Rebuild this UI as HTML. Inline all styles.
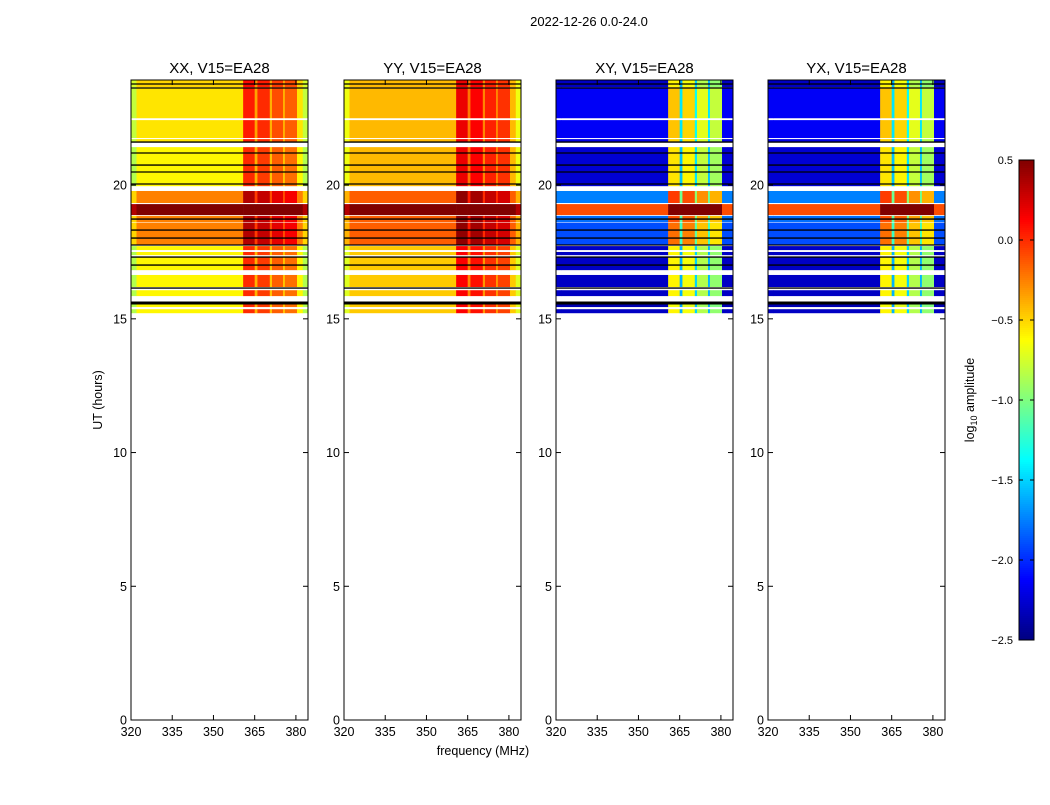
<!DOCTYPE html>
<html><head><meta charset="utf-8"><style>
body{margin:0;background:#fff;font-family:"Liberation Sans",sans-serif}
svg text{font-family:"Liberation Sans",sans-serif}
</style></head><body>
<svg id="chart" width="1050" height="800" xmlns="http://www.w3.org/2000/svg">
<rect width="1050" height="800" fill="#fff"/>
<text x="589" y="26" font-size="13" text-anchor="middle">2022-12-26 0.0-24.0</text>
<text x="483" y="755" font-size="12.5" text-anchor="middle">frequency (MHz)</text>
<text transform="translate(102,400) rotate(-90)" font-size="12.5" text-anchor="middle">UT (hours)</text>
<g id="panels"></g>
<g id="cbar"></g>
</svg>
<script>
const panelNames=["XX, V15=EA28","YY, V15=EA28","XY, V15=EA28","YX, V15=EA28"];
const panelLeft=[131,344,556,768];
const freqEdges=[320,322,360.8,365,366,370.5,371.3,375.3,376,380.4,382.5,384.4];
const offParallel=[-0.25,0,0.6,0.2,0.55,0.15,0.45,0.15,0.4,0,-0.25];
const offCross=[0,0,1.7,0.7,1.65,0.8,1.45,0.7,1.35,0,0];
const bands=[[23.66,23.93],[22.5,23.66],[21.76,22.43],[21.6,21.72],[19.96,21.42],[19.33,19.78],[18.88,19.29],[18.62,18.85],[17.76,18.6],[17.57,17.72],[17.38,17.5],[16.82,17.3],[16.19,16.64],[15.85,16.07],[15.44,15.63],[15.21,15.36]];
const levelsXX=[-0.5,-0.55,-0.55,-0.55,-0.6,-0.25,0.6,-0.25,-0.25,-0.6,-0.6,-0.6,-0.6,-0.6,-0.6,-0.6];
const levelsYY=[-0.42,-0.42,-0.42,-0.42,-0.42,-0.15,0.6,-0.15,-0.15,-0.47,-0.47,-0.47,-0.47,-0.47,-0.47,-0.47];
const levelsXY=[-2.3,-2.15,-2.15,-2.2,-2.25,-1.75,-0.1,-1.8,-1.9,-2.3,-2.3,-2.3,-2.3,-2.3,-2.35,-2.3];
const levelsYX=[-2.3,-2.15,-2.15,-2.2,-2.25,-1.75,-0.1,-1.8,-1.9,-2.3,-2.3,-2.3,-2.3,-2.3,-2.35,-2.3];
const blackLines=[23.78,23.63,21.61,21.2,20.75,20.49,20.04,18.73,18.32,18.02,17.76,17.31,17.01,16.15,15.59];
const yTicks=[0,5,10,15,20];
const xTicks=[320,335,350,365,380];
const cbarTicks=[0.5,0.0,-0.5,-1.0,-1.5,-2.0,-2.5];
const vmin=-2.5,vmax=0.5;
const plotTop=80,plotBot=720,pw=177,hMax=23.93;
const NS="http://www.w3.org/2000/svg";
function yS(h){return plotBot-h*(plotBot-plotTop)/hMax;}
function xS(left,f){return left+(f-320)*pw/(384.4-320);}
function jet(v){let t=Math.max(0,Math.min(1,(v-vmin)/(vmax-vmin)));
 const r=Math.max(0,Math.min(1,Math.min(4*t-1.5,-4*t+4.5)));
 const g=Math.max(0,Math.min(1,Math.min(4*t-0.5,-4*t+3.5)));
 const b=Math.max(0,Math.min(1,Math.min(4*t+0.5,-4*t+2.5)));
 return `rgb(${Math.round(r*255)},${Math.round(g*255)},${Math.round(b*255)})`;}
function mk(tag,attrs,parent){const e=document.createElementNS(NS,tag);for(const k in attrs)e.setAttribute(k,attrs[k]);parent.appendChild(e);return e;}
const root=document.getElementById('panels');
const levelSets=[levelsXX,levelsYY,levelsXY,levelsYX];
const offSets=[offParallel,offParallel,offCross,offCross];
panelNames.forEach((nm,p)=>{
 const L=panelLeft[p];
 const g=mk('g',{},root);
 
 
 bands.forEach((b,i)=>{
  for(let j=0;j<freqEdges.length-1;j++){
   const x0=xS(L,freqEdges[j]),x1=xS(L,freqEdges[j+1]);
   const y0=yS(b[1]),y1=yS(b[0]);
   const r=mk('rect',{x:x0,y:y0,width:x1-x0+0.3,height:y1-y0,fill:jet(levelSets[p][i]+offSets[p][j])},g);
   
   
  }
 });
 blackLines.forEach(h=>{
  const ln=mk('line',{x1:L,x2:L+pw,y1:yS(h),y2:yS(h),stroke:'#000','stroke-width':h===15.59?3:1.3},g);
  
  
 });
 const fr=mk('rect',{x:L,y:plotTop,width:pw,height:plotBot-plotTop,fill:'none',stroke:'#000','stroke-width':1},g);
 
 
 const t=mk('text',{x:L+pw/2,y:73,'font-size':15,'text-anchor':'middle'},g);t.textContent=nm;
 
 
 yTicks.forEach(v=>{const y=yS(v);
  mk('line',{x1:L,x2:L+5,y1:y,y2:y,stroke:'#000'},g);mk('line',{x1:L+pw-5,x2:L+pw,y1:y,y2:y,stroke:'#000'},g);
  const tt=mk('text',{x:L-4,y:y+4.5,'font-size':12.5,'text-anchor':'end'},g);tt.textContent=v;
  
  });
 xTicks.forEach(v=>{const x=xS(L,v);
  mk('line',{x1:x,x2:x,y1:plotBot,y2:plotBot-5,stroke:'#000'},g);mk('line',{x1:x,x2:x,y1:plotTop,y2:plotTop+5,stroke:'#000'},g);
  const tt=mk('text',{x:x,y:736,'font-size':12.5,'text-anchor':'middle'},g);tt.textContent=v;
  
  });
});
const cb=document.getElementById('cbar');
const cx=1019,cw=15,ct=160,cbt=640;
for(let i=0;i<240;i++){const y=ct+i*2;const v=vmax-(i+0.5)/240*(vmax-vmin);
 const r=mk('rect',{x:cx,y:y,width:cw,height:2.3,fill:jet(v)},cb);
 
 }
const cf=mk('rect',{x:cx,y:ct,width:cw,height:cbt-ct,fill:'none',stroke:'#000'},cb);


cbarTicks.forEach(v=>{const y=ct+(vmax-v)/(vmax-vmin)*(cbt-ct);
 mk('line',{x1:cx,x2:cx+4,y1:y,y2:y,stroke:'#000'},cb);
 mk('line',{x1:cx+cw-4,x2:cx+cw,y1:y,y2:y,stroke:'#000'},cb);
 const tt=mk('text',{x:1013,y:y+4,'font-size':11,'text-anchor':'end'},cb);
 tt.textContent=(v<0?'\u2212':'')+Math.abs(v).toFixed(1);
 
 });
const cl=mk('text',{transform:'translate(974,400) rotate(-90)','font-size':12.5,'text-anchor':'middle'},cb);
cl.innerHTML='log<tspan font-size="9" dy="3">10</tspan><tspan dy="-3"> amplitude</tspan>';


</script>
</body></html>
